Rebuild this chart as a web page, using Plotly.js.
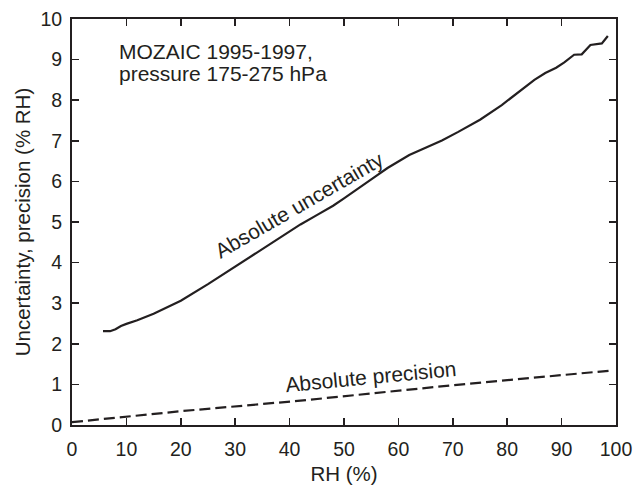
<!DOCTYPE html>
<html>
<head>
<meta charset="utf-8">
<script src="https://cdn.plot.ly/plotly-3.0.1.min.js"></script>
<style>html,body{margin:0;padding:0;background:#fff;overflow:hidden;}#chart{width:637px;height:485px;}</style>
</head>
<body>
<div id="chart"></div>
<script>
// Absolute uncertainty (solid line)
const uncRH = [5.7, 7, 8, 9, 10, 12, 15, 18, 20, 25, 30, 35, 40, 42, 45, 48, 50, 53, 56, 58, 60, 62, 65, 68, 71, 75, 79, 82, 85, 87, 89, 90.5, 92.3, 93.7, 95.3, 97.4, 98.5];
const uncVal = [2.31, 2.31, 2.36, 2.44, 2.49, 2.58, 2.74, 2.92, 3.06, 3.47, 3.90, 4.33, 4.77, 4.94, 5.17, 5.40, 5.58, 5.87, 6.14, 6.33, 6.50, 6.65, 6.83, 7.01, 7.22, 7.52, 7.88, 8.18, 8.50, 8.67, 8.80, 8.93, 9.12, 9.13, 9.36, 9.40, 9.58];
// Absolute precision (dashed line)
const precRH = [0, 20, 42, 70, 99];
const precVal = [0.07, 0.34, 0.60, 0.98, 1.34];
// Tick labels
const xTicks = [0, 10, 20, 30, 40, 50, 60, 70, 80, 90, 100];
const yTicks = [0, 1, 2, 3, 4, 5, 6, 7, 8, 9, 10];

const FONT = 'Liberation Sans, Arial, Helvetica, sans-serif';
const INK = '#231f20';

const traces = [
  {x: uncRH, y: uncVal, type: 'scatter', mode: 'lines', name: 'Absolute uncertainty',
   line: {color: INK, width: 2.2}},
  {x: precRH, y: precVal, type: 'scatter', mode: 'lines', name: 'Absolute precision',
   line: {color: INK, width: 2.2, dash: '11px,5px'}}
];

const axisCommon = {
  showgrid: false, zeroline: false, showline: true, linecolor: INK, linewidth: 2,
  mirror: 'ticks', ticks: 'inside', ticklen: 7, tickwidth: 1.5, tickcolor: INK,
  ticklabeloverflow: 'allow',
  tickfont: {family: FONT, size: 19.5, color: INK}
};

const layout = {
  width: 637, height: 485,
  margin: {l: 72, r: 21, t: 19, b: 60},
  paper_bgcolor: '#ffffff', plot_bgcolor: '#ffffff',
  showlegend: false,
  font: {family: FONT, color: INK},
  xaxis: Object.assign({}, axisCommon, {
    range: [0, 100], tickvals: xTicks, ticktext: xTicks.map(String),
    ticklabelstandoff: 6,
    title: {text: 'RH (%)', font: {family: FONT, size: 20.5, color: INK}, standoff: 8}
  }),
  yaxis: Object.assign({}, axisCommon, {
    range: [0, 10], tickvals: yTicks, ticktext: yTicks.map(String),
    ticklabelstandoff: 4,
    title: {text: 'Uncertainty, precision (% RH)', font: {family: FONT, size: 20.5, color: INK}, standoff: 4}
  }),
  annotations: [
    {xref: 'x', yref: 'y', x: 8.2, y: 9.21, xanchor: 'left', yanchor: 'middle', showarrow: false,
     text: 'MOZAIC 1995-1997,', font: {family: FONT, size: 21, color: INK}},
    {xref: 'x', yref: 'y', x: 8.2, y: 8.65, xanchor: 'left', yanchor: 'middle', showarrow: false,
     text: 'pressure 175-275 hPa', font: {family: FONT, size: 21, color: INK}},
    {xref: 'x', yref: 'y', x: 41.9, y: 5.42, showarrow: false, textangle: -30,
     text: 'Absolute uncertainty', font: {family: FONT, size: 21, color: INK}},
    {xref: 'x', yref: 'y', x: 55.0, y: 1.20, showarrow: false, textangle: -5.5,
     text: 'Absolute precision', font: {family: FONT, size: 21, color: INK}}
  ]
};

Plotly.newPlot('chart', traces, layout, {staticPlot: true, displayModeBar: false});
</script>
</body>
</html>
